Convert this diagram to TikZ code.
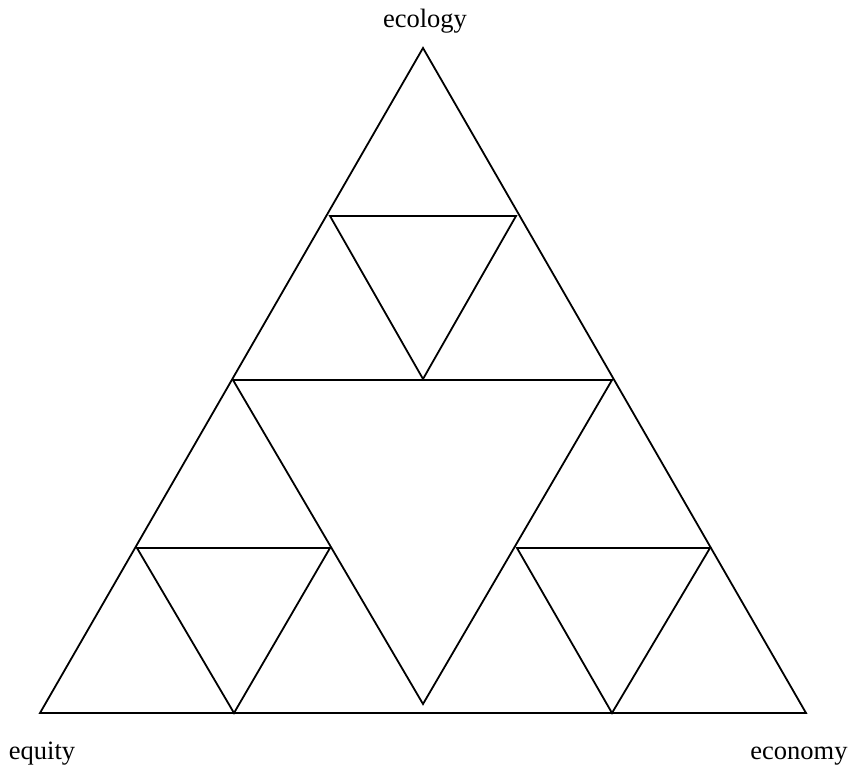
\documentclass[tikz,border=0pt]{standalone}
\usepackage{fontspec}
\setmainfont{Liberation Serif}
\begin{document}
\begin{tikzpicture}[x=1pt,y=-1pt,
  tri/.style={draw=black,line width=1.8pt,line join=miter},
  lbl/.style={anchor=base,inner sep=0pt,font=\fontsize{26.5}{30}\selectfont}]
\useasboundingbox (0,0) rectangle (854,768);
% outer triangle
\coordinate (A) at (423,48);
\coordinate (B) at (40,713);
\coordinate (C) at (806,713);
% big inverted triangle
\coordinate (L) at (233,380);
\coordinate (R) at (612,380);
\coordinate (V) at (423,704);
% small inverted triangles
\coordinate (t1) at (330,216);
\coordinate (t2) at (516,216);
\coordinate (t3) at (423,379);
\coordinate (l1) at (137,548);
\coordinate (l2) at (330,548);
\coordinate (l3) at (234,713);
\coordinate (r1) at (517,548);
\coordinate (r2) at (710,548);
\coordinate (r3) at (612,713);
\draw[tri] (A) -- (B) -- (C) -- cycle;
\draw[tri] (L) -- (R) -- (V) -- cycle;
\draw[tri] (t1) -- (t2) -- (t3) -- cycle;
\draw[tri] (l1) -- (l2) -- (l3) -- cycle;
\draw[tri] (r1) -- (r2) -- (r3) -- cycle;
\node[lbl] (eco) at (425,28) {ecology};
\node[lbl] (equ) at (42,759) {equity};
\node[lbl] (econ) at (799,759) {economy};
\end{tikzpicture}
\end{document}
